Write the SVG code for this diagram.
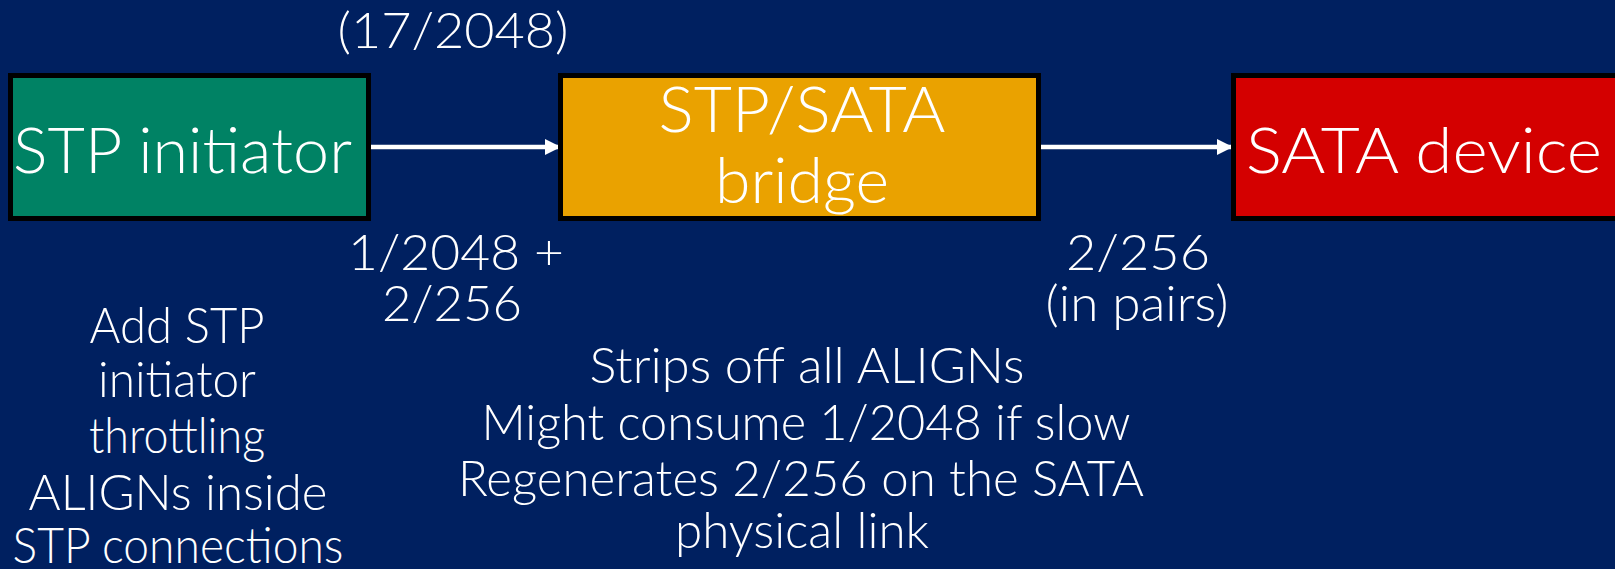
<svg xmlns="http://www.w3.org/2000/svg" width="1615" height="569" viewBox="0 0 1615 569">
<style>
.box{stroke:#000;stroke-width:5}
.t{font-family:"Lato","Liberation Sans",Arial,sans-serif;font-weight:300;fill:#fff}
.big{font-size:64px}
.lab{font-size:49px;text-anchor:middle}
.conn{stroke:#fff;stroke-width:4.5;fill:none}
</style>
<defs>
<marker id="ah" markerUnits="userSpaceOnUse" markerWidth="18" markerHeight="18" refX="16" refY="9" orient="auto">
<path d="M0,1 L16,9 L0,17 Z" fill="#fff"/>
</marker>
</defs>
<rect width="1615" height="569" fill="#002060"/>
<g id="connectors">
<line class="conn" x1="371" y1="147" x2="561" y2="147" marker-end="url(#ah)"/>
<line class="conn" x1="1041" y1="147" x2="1233" y2="147" marker-end="url(#ah)"/>
</g>
<g id="stp-initiator">
<rect class="box" x="10.5" y="75.5" width="358" height="143" fill="#008264"/>
<text class="t big" x="13" y="173" textLength="339" lengthAdjust="spacingAndGlyphs">STP initiator</text>
</g>
<g id="bridge">
<rect class="box" x="560.5" y="75.5" width="478" height="143" fill="#EAA200"/>
<text class="t big" x="802" y="132" text-anchor="middle" textLength="287" lengthAdjust="spacingAndGlyphs">STP/SATA</text>
<text class="t big" x="802" y="203" text-anchor="middle" textLength="174" lengthAdjust="spacingAndGlyphs">bridge</text>
</g>
<g id="sata-device">
<rect class="box" x="1233.5" y="75.5" width="400" height="143" fill="#D40000"/>
<text class="t big" x="1246" y="173" textLength="356" lengthAdjust="spacingAndGlyphs">SATA device</text>
</g>
<g id="labels">
<text class="t lab" x="453" y="48" textLength="231" lengthAdjust="spacingAndGlyphs">(17/2048)</text>
<text class="t lab" x="456" y="270" textLength="216" lengthAdjust="spacingAndGlyphs">1/2048 +</text>
<text class="t lab" x="452" y="321" textLength="140" lengthAdjust="spacingAndGlyphs">2/256</text>
<text class="t lab" x="1138" y="270" textLength="144" lengthAdjust="spacingAndGlyphs">2/256</text>
<text class="t lab" x="1137" y="321" textLength="183" lengthAdjust="spacingAndGlyphs">(in pairs)</text>
<text class="t lab" x="177" y="343" textLength="175" lengthAdjust="spacingAndGlyphs">Add STP</text>
<text class="t lab" x="177" y="397" textLength="158" lengthAdjust="spacingAndGlyphs">initiator</text>
<text class="t lab" x="177" y="453" textLength="176" lengthAdjust="spacingAndGlyphs">throttling</text>
<text class="t lab" x="178" y="510" textLength="299" lengthAdjust="spacingAndGlyphs">ALIGNs inside</text>
<text class="t lab" x="178" y="563" textLength="331" lengthAdjust="spacingAndGlyphs">STP connections</text>
<text class="t lab" x="807" y="383" textLength="435" lengthAdjust="spacingAndGlyphs">Strips off all ALIGNs</text>
<text class="t lab" x="806" y="440" textLength="649" lengthAdjust="spacingAndGlyphs">Might consume 1/2048 if slow</text>
<text class="t lab" x="801" y="496" textLength="686" lengthAdjust="spacingAndGlyphs">Regenerates 2/256 on the SATA</text>
<text class="t lab" x="802" y="548" textLength="254" lengthAdjust="spacingAndGlyphs">physical link</text>
</g>
</svg>
